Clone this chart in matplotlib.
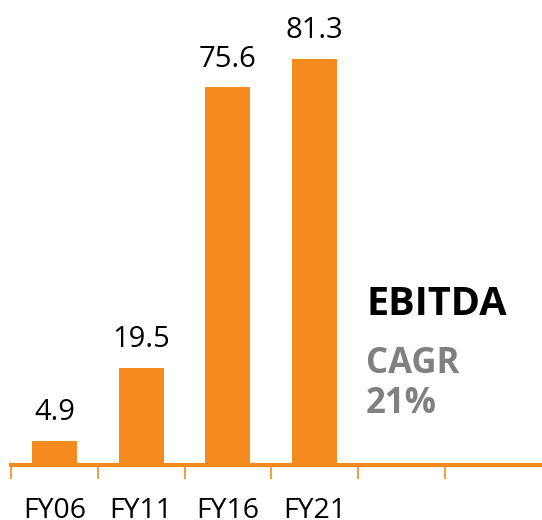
import matplotlib.pyplot as plt

# chart data
years = ["FY06", "FY11", "FY16", "FY21", "", ""]
ebitda = [4.9, 19.5, 75.6, 81.3]
value_labels = ["4.9", "19.5", "75.6", "81.3"]

orange = "#F58A1F"
grey = "#808080"
plt.rcParams["font.family"] = ["Open Sans", "DejaVu Sans"]

fig = plt.figure(figsize=(5.42, 5.20), dpi=100)
ax = fig.add_axes([11 / 542, 55 / 520, 531 / 542, 465 / 520])

x = list(range(len(ebitda)))
ax.bar(x, ebitda, width=0.52, color=orange, zorder=2)

for xi, v, lab in zip(x, ebitda, value_labels):
    ax.text(xi, v + 4.1, lab, ha="center", va="baseline", fontsize=21, color="black")

ax.set_xlim(-0.5, 5.62)
ax.set_ylim(0, 93)

# category boundaries as tick marks, labels in the middle
ax.set_xticks([i - 0.5 for i in range(6)])
ax.set_xticklabels([])
ax.set_xticks(range(len(years)), minor=True)
ax.set_xticklabels(years, minor=True, fontsize=20.5)
ax.tick_params(axis="x", which="major", length=10, width=1.2, color=orange, direction="out")
ax.tick_params(axis="x", which="minor", length=0, pad=23)
ax.set_yticks([])

for s in ["top", "right", "left"]:
    ax.spines[s].set_visible(False)
ax.spines["bottom"].set_color(orange)
ax.spines["bottom"].set_linewidth(3)

fig.text(366 / 542, 1 - 315 / 520, "EBITDA", fontsize=28.5, fontweight="bold", color="black")
fig.text(366 / 542, 1 - 373 / 520, "CAGR", fontsize=25, fontweight="bold", color=grey)
fig.text(366 / 542, 1 - 413 / 520, "21%", fontsize=25, fontweight="bold", color=grey)

fig.savefig("out.png", dpi=100)
